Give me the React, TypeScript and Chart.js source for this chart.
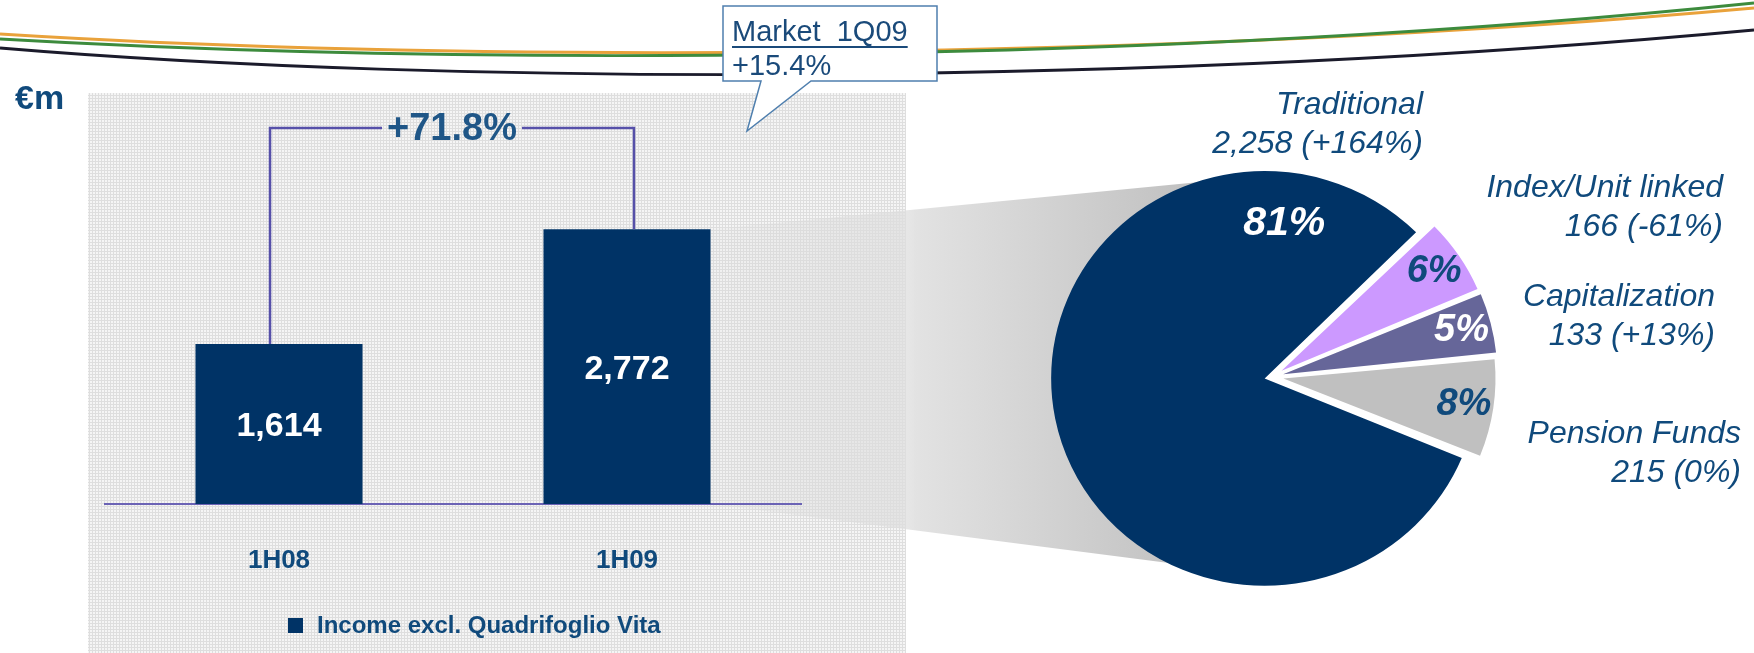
import React, { useEffect, useRef } from 'react';
import { Chart, registerables } from 'chart.js';

Chart.register(...registerables);

// ---------- data ----------
const periods = ['1H08', '1H09'];
const income = [1614, 2772];
const growthLabel = '+71.8%';
const seriesLabel = 'Income excl. Quadrifoglio Vita';
const unitLabel = '€m';
const calloutTitle = 'Market  1Q09';
const calloutValue = '+15.4%';

const businessLines = ['Traditional', 'Index/Unit linked', 'Capitalization', 'Pension Funds'];
const lineValues = [2258, 166, 133, 215];
const lineChanges = ['+164%', '-61%', '+13%', '0%'];

// ---------- styles ----------
const FONT = '"Liberation Sans", Arial, Helvetica, sans-serif';
const NAVY = '#003366';
const TEXT_BLUE = '#104a7c';
const PIE_COLORS = ['#003366', '#CC99FF', '#666699', '#C0C0C0'];
const PIE_OFFSETS = [30, 46, 46, 46];
const PCT_COLORS = ['#ffffff', TEXT_BLUE, '#ffffff', TEXT_BLUE];
const PIE_SQUASH = 0.971; // the original pie is slightly flattened vertically
const OUTER_LABEL_POS = [
  [1423, 105],
  [1723, 188],
  [1715, 297],
  [1741, 434],
];
const W = 1754;
const H = 653;

const fmt = (v: number) => v.toLocaleString('en-US');

function makePattern(ctx: CanvasRenderingContext2D) {
  const tile = document.createElement('canvas');
  tile.width = 3;
  tile.height = 3;
  const t = tile.getContext('2d')!;
  t.fillStyle = '#f5f5f5';
  t.fillRect(0, 0, 3, 3);
  t.fillStyle = '#dedede';
  t.fillRect(0, 2, 3, 1);
  t.fillRect(2, 0, 1, 3);
  return ctx.createPattern(tile, 'repeat');
}

const barDeco = {
  id: 'barDeco',
  beforeDraw(chart: any) {
    const ctx: CanvasRenderingContext2D = chart.ctx;
    ctx.save();
    // patterned panel
    const pat = makePattern(ctx);
    if (pat) ctx.fillStyle = pat;
    ctx.fillRect(88, 93, 818, 560);

    // header swooshes
    const swoosh = (y0: number, c: number, y1: number, color: string, w: number) => {
      ctx.beginPath();
      ctx.moveTo(0, y0);
      ctx.bezierCurveTo(450, c, 1150, c, W, y1);
      ctx.strokeStyle = color;
      ctx.lineWidth = w;
      ctx.stroke();
    };
    swoosh(34, 62, 8, '#e9a23b', 2.8);
    swoosh(39, 65, 3, '#3d8b3d', 2.8);
    swoosh(48, 86, 30, '#1b1b2b', 2.8);

    // funnel from the 1H09 bar towards the pie
    const bar = chart.getDatasetMeta(0).data[1];
    const { x, y, base, width } = bar.getProps(['x', 'y', 'base', 'width'], true);
    const right = x + width / 2;
    const g = ctx.createLinearGradient(right, 0, 1230, 0);
    g.addColorStop(0, 'rgba(215,215,215,0.12)');
    g.addColorStop(0.38, 'rgba(222,222,222,0.75)');
    g.addColorStop(0.4, 'rgba(226,226,226,1)');
    g.addColorStop(1, 'rgb(188,188,188)');
    ctx.beginPath();
    ctx.moveTo(right, y);
    ctx.lineTo(1262, 176);
    ctx.lineTo(1262, 575);
    ctx.lineTo(right, base);
    ctx.closePath();
    ctx.fillStyle = g;
    ctx.fill();
    ctx.restore();
  },
  afterDatasetsDraw(chart: any) {
    const ctx: CanvasRenderingContext2D = chart.ctx;
    const bars = chart.getDatasetMeta(0).data;
    ctx.save();
    // value labels
    ctx.fillStyle = '#ffffff';
    ctx.font = `bold 34px ${FONT}`;
    ctx.textAlign = 'center';
    ctx.textBaseline = 'middle';
    bars.forEach((b: any, i: number) => {
      const { x, y, base } = b.getProps(['x', 'y', 'base'], true);
      ctx.fillText(fmt(income[i]), x, (y + base) / 2 + 3);
    });

    // growth connector
    const p0 = bars[0].getProps(['x', 'y'], true);
    const p1 = bars[1].getProps(['x', 'y'], true);
    const lx = p0.x - 9;
    const rx = p1.x + 7;
    const ty = 128;
    ctx.font = `bold 38px ${FONT}`;
    const tw = ctx.measureText(growthLabel).width;
    const cx = 452;
    ctx.strokeStyle = '#5650a9';
    ctx.lineWidth = 2.5;
    ctx.beginPath();
    ctx.moveTo(lx, p0.y);
    ctx.lineTo(lx, ty);
    ctx.lineTo(cx - tw / 2 - 5, ty);
    ctx.moveTo(cx + tw / 2 + 5, ty);
    ctx.lineTo(rx, ty);
    ctx.lineTo(rx, p1.y);
    ctx.stroke();
    ctx.fillStyle = '#1f5687';
    ctx.fillText(growthLabel, cx, ty + 2);

    // unit
    ctx.textAlign = 'left';
    ctx.textBaseline = 'alphabetic';
    ctx.font = `bold 34px ${FONT}`;
    ctx.fillStyle = TEXT_BLUE;
    ctx.fillText(unitLabel, 15, 109);

    // callout
    ctx.beginPath();
    ctx.moveTo(723, 6);
    ctx.lineTo(937, 6);
    ctx.lineTo(937, 81);
    ctx.lineTo(811, 81);
    ctx.lineTo(747, 131);
    ctx.lineTo(761, 81);
    ctx.lineTo(723, 81);
    ctx.closePath();
    ctx.fillStyle = '#ffffff';
    ctx.fill();
    ctx.strokeStyle = '#4f7fae';
    ctx.lineWidth = 1.5;
    ctx.stroke();
    ctx.font = `29px ${FONT}`;
    ctx.fillStyle = '#1a4a7a';
    ctx.textBaseline = 'middle';
    ctx.fillText(calloutTitle, 732, 33);
    const mw = ctx.measureText(calloutTitle).width;
    ctx.fillRect(732, 46, mw, 2);
    ctx.fillText(calloutValue, 732, 67);

    // legend
    ctx.fillStyle = NAVY;
    ctx.fillRect(288, 618, 15, 15);
    ctx.font = `bold 24px ${FONT}`;
    ctx.fillStyle = TEXT_BLUE;
    ctx.fillText(seriesLabel, 317, 626);
    ctx.restore();
  },
};

const total = lineValues.reduce((a, b) => a + b, 0);
const PIE_ROTATION = 45.5 - (360 * lineValues[0]) / total;

const pieSquash = {
  id: 'pieSquash',
  beforeDatasetsDraw(chart: any) {
    const ctx: CanvasRenderingContext2D = chart.ctx;
    const cy = (chart.chartArea.top + chart.chartArea.bottom) / 2;
    ctx.save();
    ctx.translate(0, cy);
    ctx.scale(1, PIE_SQUASH);
    ctx.translate(0, -cy);
  },
  afterDatasetsDraw(chart: any) {
    chart.ctx.restore();
  },
};

const pieLabels = {
  id: 'pieLabels',
  afterDraw(chart: any) {
    const ctx: CanvasRenderingContext2D = chart.ctx;
    const arcs = chart.getDatasetMeta(0).data;
    const midY = (chart.chartArea.top + chart.chartArea.bottom) / 2;
    ctx.save();
    ctx.textAlign = 'center';
    ctx.textBaseline = 'middle';
    arcs.forEach((arc: any, i: number) => {
      const { x, y, startAngle, endAngle, outerRadius, circumference } = arc.getProps(
        ['x', 'y', 'startAngle', 'endAngle', 'outerRadius', 'circumference'],
        true
      );
      const mid = (startAngle + endAngle) / 2;
      const off = PIE_OFFSETS[i] / 4;
      const fix = 1 - Math.sin(Math.min(Math.PI, circumference));
      const cx = x + Math.cos(mid) * off;
      const cy = y + Math.sin(mid) * off;
      const r = outerRadius + off * fix;
      let ang = mid;
      let frac = 0.86;
      if (i === 0) {
        ang = endAngle - (38.5 * Math.PI) / 180;
        frac = 0.75;
      }
      const pct = Math.round((lineValues[i] / total) * 100) + '%';
      const lx = cx + Math.cos(ang) * r * frac;
      const ly = cy + Math.sin(ang) * r * frac;
      ctx.font = `italic bold ${i === 0 ? 41 : 38}px ${FONT}`;
      ctx.fillStyle = PCT_COLORS[i];
      ctx.fillText(pct, lx, midY + (ly - midY) * PIE_SQUASH);
    });

    ctx.textAlign = 'right';
    ctx.font = `italic 32px ${FONT}`;
    ctx.fillStyle = TEXT_BLUE;
    businessLines.forEach((name, i) => {
      const [rx, ry] = OUTER_LABEL_POS[i];
      ctx.fillText(name, rx, ry);
      ctx.fillText(`${fmt(lineValues[i])} (${lineChanges[i]})`, rx, ry + 39);
    });
    ctx.restore();
  },
};

export default function App() {
  const barRef = useRef<HTMLCanvasElement>(null);
  const pieRef = useRef<HTMLCanvasElement>(null);

  useEffect(() => {
    Chart.defaults.font.family = FONT;
    const bar = new Chart(barRef.current!, {
      type: 'bar',
      data: {
        labels: periods,
        datasets: [
          {
            label: seriesLabel,
            data: income,
            backgroundColor: NAVY,
            borderWidth: 0,
            barPercentage: 0.48,
            categoryPercentage: 1,
          },
        ],
      },
      options: {
        responsive: false,
        animation: false,
        layout: { padding: { left: 105, right: 953, top: 157, bottom: 0 } },
        plugins: { legend: { display: false }, tooltip: { enabled: false } },
        scales: {
          x: {
            grid: { display: false, drawTicks: false },
            border: { display: true, color: '#6b63b5', width: 2 },
            ticks: { color: TEXT_BLUE, font: { size: 26, weight: 'bold' }, padding: 41 },
            afterFit: (s: any) => {
              s.height = 149;
            },
          },
          y: { display: false, min: 0, max: 3500 },
        },
      } as any,
      plugins: [barDeco],
    });

    const pie = new Chart(pieRef.current!, {
      type: 'pie',
      data: {
        labels: businessLines,
        datasets: [
          {
            data: lineValues,
            backgroundColor: PIE_COLORS,
            borderWidth: 0,
            offset: PIE_OFFSETS,
          },
        ],
      },
      options: {
        responsive: false,
        animation: false,
        rotation: PIE_ROTATION,
        layout: { padding: { left: 1043, right: 253, top: 148, bottom: 47 } },
        plugins: { legend: { display: false }, tooltip: { enabled: false } },
      } as any,
      plugins: [pieSquash, pieLabels],
    });

    return () => {
      bar.destroy();
      pie.destroy();
    };
  }, []);

  return (
    <div style={{ position: 'absolute', left: 0, top: 0, width: W, height: H, background: '#ffffff', overflow: 'hidden' }}>
      <canvas ref={barRef} width={W} height={H} style={{ position: 'absolute', left: 0, top: 0 }} />
      <canvas ref={pieRef} width={W} height={H} style={{ position: 'absolute', left: 0, top: 0 }} />
    </div>
  );
}
